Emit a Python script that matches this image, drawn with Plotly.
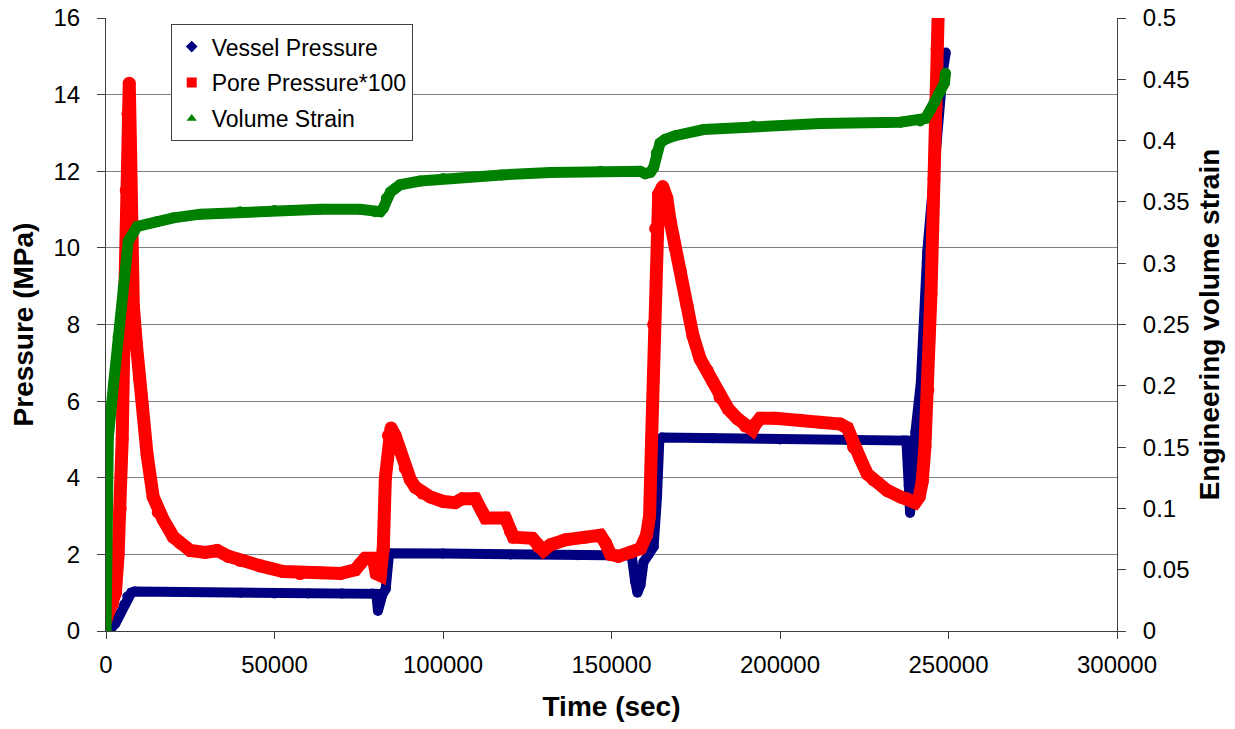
import plotly.graph_objects as go

# ---------------- data ----------------
vessel_t = [0, 1300, 2800, 4200, 5400, 6300, 7500, 8500, 20000, 40000, 50000, 60000, 70000,
            79000, 80200, 80700, 81300, 82000, 83000, 83500, 84000, 100000, 120000, 140000,
            156000, 157000, 157700, 158600, 159500, 161000, 162500, 163500, 164200, 165000,
            180000, 200000, 220000, 236600, 237500, 238200, 238600, 239000, 240200, 241800,
            243700, 246000, 248300, 249200]
vessel_p = [0.0, 0.05, 0.2, 0.45, 0.7, 0.9, 1.0, 1.03, 1.02, 1.0, 0.98, 0.98, 0.98,
            0.98, 0.97, 0.52, 0.75, 0.95, 1.1, 1.95, 2.03, 2.02, 2.0, 1.98,
            1.97, 1.3, 1.0, 1.2, 1.8, 2.0, 2.2, 3.5, 5.0, 5.05,
            5.03, 5.0, 4.98, 4.97, 4.97, 3.8, 3.08, 3.6, 5.2, 6.5,
            9.9, 12.5, 14.6, 15.1]

pore_t = [0, 700, 1900, 2800, 3600, 4200, 4800, 5400, 6000, 6500, 6900, 7300, 7600, 8100,
          9000, 9900, 10800, 12200, 14000, 15500, 17000, 20000, 22000, 25000, 29500, 33000,
          36300, 39800, 45800, 52600, 57600, 63600, 69500, 74000, 75400, 76900, 79300, 80200,
          81400, 82300, 82900, 83800, 84600, 85800, 87300, 88800, 90300, 91800, 93900, 96200,
          100100, 103600, 105700, 109600, 111700, 112600, 118500, 120000, 120900, 126500,
          128300, 129800, 131900, 136300, 142300, 146700, 148200, 149700, 152100, 155600,
          158600, 160400, 161300, 161900, 162500, 163100, 164000, 165200, 166400, 167400,
          168900, 170400, 172400, 174200, 176300, 178400, 180100, 182200, 184600, 187300,
          189700, 191800, 192700, 194100, 198600, 206000, 212000, 217900, 220000, 221800,
          223800, 225900, 227700, 231800, 235700, 237800, 240100, 241300, 242200, 243000,
          243900, 244800, 245700, 246600, 247200]
pore_p = [0.3, 0.5, 0.7, 1.0, 2.0, 3.2, 5.0, 8.0, 11.5, 13.5, 14.3, 12.5, 10.0, 8.5,
          7.5, 6.6, 5.9, 4.6, 3.5, 3.1, 2.9, 2.45, 2.3, 2.1, 2.05, 2.1,
          1.95, 1.84, 1.7, 1.55, 1.5, 1.52, 1.5, 1.6, 1.75, 1.9, 1.9, 1.5,
          1.45, 2.2, 4.0, 5.1, 5.3, 5.1, 4.7, 4.25, 3.95, 3.75, 3.6, 3.5,
          3.38, 3.35, 3.45, 3.45, 3.1, 2.95, 2.95, 2.6, 2.45, 2.42,
          2.2, 2.1, 2.25, 2.38, 2.45, 2.5, 2.3, 2.0, 1.95, 2.05,
          2.15, 2.5, 3.0, 5.0, 8.0, 10.5, 11.4, 11.6, 11.3, 10.7,
          10.0, 9.4, 8.5, 7.7, 7.1, 6.8, 6.5, 6.1, 5.8, 5.55,
          5.35, 5.25, 5.4, 5.55, 5.55, 5.5, 5.45, 5.4, 5.3, 4.8,
          4.5, 4.1, 3.95, 3.67, 3.5, 3.45, 3.35, 3.5, 3.9, 4.8,
          6.3, 8.8, 11.8, 15.2, 17.0]

strain_t = [0, 150, 400, 700, 2200, 3600, 5100, 6600, 9300, 15200, 20000, 28000, 39800,
            50000, 63600, 75400, 79900, 81400, 82300, 83200, 84400, 85800, 87300, 93200,
            100000, 117300, 131800, 146700, 158500, 160000, 161500, 162500, 163300, 164400,
            165900, 168900, 177300, 192100, 212000, 235700, 241600, 243100, 244600, 246100,
            247600, 248800, 249100]
strain_v = [0.0, 0.06, 0.117, 0.158, 0.2, 0.24, 0.28, 0.318, 0.33, 0.334, 0.337, 0.34, 0.342,
            0.343, 0.344, 0.344, 0.342, 0.342, 0.345, 0.353, 0.358, 0.361, 0.364, 0.367,
            0.369, 0.372, 0.374, 0.375, 0.375, 0.373, 0.374, 0.378, 0.39, 0.398,
            0.401, 0.404, 0.409, 0.412, 0.414, 0.415, 0.416, 0.418, 0.425, 0.432,
            0.44, 0.447, 0.455]

x_ticks = [0, 50000, 100000, 150000, 200000, 250000, 300000]
x_ticktext = ["0", "50000", "100000", "150000", "200000", "250000", "300000"]
y_ticks = [0, 2, 4, 6, 8, 10, 12, 14, 16]
y_ticktext = ["0", "2", "4", "6", "8", "10", "12", "14", "16"]
y2_ticks = [0, 0.05, 0.1, 0.15, 0.2, 0.25, 0.3, 0.35, 0.4, 0.45, 0.5]
y2_ticktext = ["0", "0.05", "0.1", "0.15", "0.2", "0.25", "0.3", "0.35", "0.4", "0.45", "0.5"]

names = ["Vessel Pressure", "Pore Pressure*100", "Volume Strain"]
colors = ["#000080", "#FF0000", "#008000"]
symbols = ["diamond", "square", "triangle-up"]
widths = [10, 13, 11]

FONT = "Liberation Sans, Arial, sans-serif"

fig = go.Figure()

series = [(vessel_t, vessel_p, "y"), (pore_t, pore_p, "y"), (strain_t, strain_v, "y2")]
for (xs, ys, ax), c, w in zip(series, colors, widths):
    fig.add_trace(go.Scatter(x=xs, y=ys, mode="lines+markers", showlegend=False,
                             line=dict(color=c, width=w),
                             marker=dict(color=c, size=w, symbol="circle", line=dict(width=0)),
                             yaxis=ax))

# legend entries (marker symbols like the reference)
for i, (n, c, s) in enumerate(zip(names, colors, symbols)):
    fig.add_trace(go.Scatter(x=[None], y=[None], mode="markers", name=n,
                             legendgroup=str(i),
                             marker=dict(color=c, symbol=s, size=9 if i != 1 else 10),
                             yaxis="y2" if i == 2 else "y"))

axis_line = "#404040"

fig.update_layout(
    width=1235, height=729,
    margin=dict(l=106, r=118, t=18, b=98, autoexpand=False),
    paper_bgcolor="white", plot_bgcolor="white",
    font=dict(family=FONT, size=24, color="black"),
    showlegend=True,
    legend=dict(x=0.064, y=0.99, xanchor="left", yanchor="top",
                bgcolor="white", bordercolor="#404040", borderwidth=1,
                font=dict(family=FONT, size=23, color="black"),
                traceorder="grouped", tracegroupgap=3, itemwidth=30),
    xaxis=dict(range=[0, 300000], tickvals=x_ticks, ticktext=x_ticktext,
               showgrid=False, zeroline=False, showline=True, linecolor=axis_line,
               linewidth=1, ticks="outside", ticklen=7, tickcolor=axis_line,
               ticklabelstandoff=5,
               title=dict(text="Time (sec)", font=dict(family=FONT, size=28, weight="bold"),
                          standoff=19)),
    yaxis=dict(range=[0, 16], tickvals=y_ticks, ticktext=y_ticktext,
               showgrid=True, gridcolor="#808080", gridwidth=1, zeroline=False,
               showline=True, linecolor=axis_line, linewidth=1,
               ticks="outside", ticklen=8, tickcolor=axis_line, ticklabelstandoff=12,
               title=dict(text="Pressure (MPa)", font=dict(family=FONT, size=28, weight="bold"),
                          standoff=11)),
    yaxis2=dict(range=[0, 0.5], tickvals=y2_ticks, ticktext=y2_ticktext,
                overlaying="y", side="right", anchor="x",
                showgrid=False, zeroline=False, showline=True, linecolor=axis_line,
                linewidth=1, ticks="outside", ticklen=8, tickcolor=axis_line,
                ticklabelstandoff=12,
                title=dict(text="Engineering volume strain",
                           font=dict(family=FONT, size=28, weight="bold"), standoff=10)),
)

fig.write_html("out.html")
